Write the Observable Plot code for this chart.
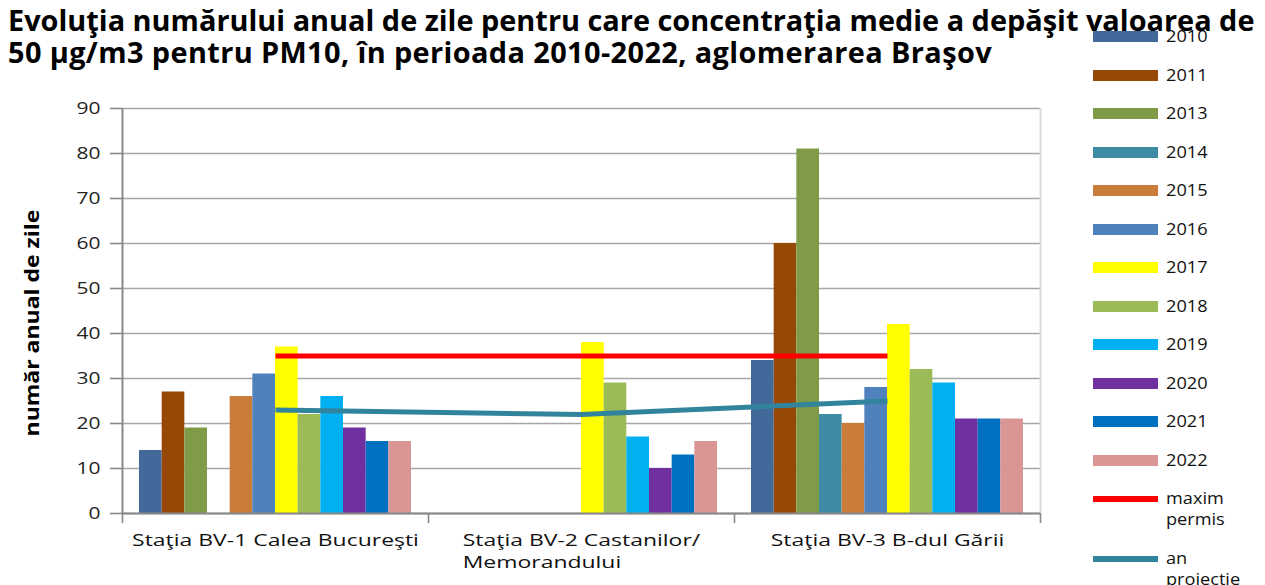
<!DOCTYPE html>
<html>
<head>
<meta charset="utf-8">
<script src="https://cdn.jsdelivr.net/npm/d3@7"></script>
<script src="https://cdn.jsdelivr.net/npm/@observablehq/plot@0.6"></script>
<style>
  html, body { margin: 0; padding: 0; background: #fff; }
  #wrap { position: relative; width: 1265px; height: 585px; overflow: hidden; font-family: "Open Sans", sans-serif; }
  #title { position: absolute; left: 8px; top: 4px; font-weight: bold; color: #000; line-height: 32px; white-space: nowrap; z-index: 2; }
  #title span { display: inline-block; }
  #chart { position: absolute; left: 0; top: 80px; }
  #legend { position: absolute; left: 0; top: 0; width: 1265px; height: 585px; z-index: 1; }
  .li { position: absolute; left: 1093px; display: flex; align-items: flex-start; }
  .sw { width: 65px; margin-top: 0; flex: none; }
  .lt { margin-left: 8px; font-size: 16px; line-height: 21px; color: #111; transform-origin: left top; white-space: nowrap; }
</style>
</head>
<body>
<div id="wrap">
  <div id="title"></div>
  <div id="legend"></div>
  <div id="chart"></div>
</div>
<script>
const titleLines = [
  "Evoluţia numărului anual de zile pentru care concentraţia medie a depăşit valoarea de",
  "50 µg/m3 pentru PM10, în perioada 2010-2022, aglomerarea Braşov"
];
const yLabel = "număr anual de zile";
const stations = ["Staţia BV-1 Calea Bucureşti", "Staţia BV-2 Castanilor/\nMemorandului", "Staţia BV-3 B-dul Gării"];
const years = ["2010", "2011", "2013", "2014", "2015", "2016", "2017", "2018", "2019", "2020", "2021", "2022"];
const yearColors = ["#416A9B", "#974806", "#7F9B48", "#3D8CA4", "#CA7C3A", "#4F81BD", "#FFFF00", "#9BBB59", "#00B0F0", "#7030A0", "#0070C0", "#D99694"];
const bv1 = [14, 27, 19, 0, 26, 31, 37, 22, 26, 19, 16, 16];
const bv2 = [0, 0, 0, 0, 0, 0, 38, 29, 17, 10, 13, 16];
const bv3 = [34, 60, 81, 22, 20, 28, 42, 32, 29, 21, 21, 21];
const maximPermis = [35, 35, 35];
const anProiectie = [23, 22, 25];
const lineNames = ["maxim\npermis", "an\nproiecţie"];
const lineColors = ["#FF0000", "#31849B"];
const yTicks = [0, 10, 20, 30, 40, 50, 60, 70, 80, 90];

// title: size fitted so line 1 spans the original's width; line 2 letter-spaced to its width
const tEl = document.getElementById("title");
const titleWidths = [1247, 984];
tEl.style.fontSize = "22px";
tEl.innerHTML = titleLines.map(s => `<div><span>${s}</span></div>`).join("");
const spans = tEl.querySelectorAll("span");
const w1 = spans[0].getBoundingClientRect().width;
const tfs = 22 * titleWidths[0] / w1;
tEl.style.fontSize = tfs + "px";
const w2 = spans[1].getBoundingClientRect().width;
spans[1].style.letterSpacing = ((titleWidths[1] - w2) / titleLines[1].length) + "px";

// bars: grouped within each station band (Excel-like gap width 150%)
const seriesVals = [bv1, bv2, bv3];
const bw = 1 / (years.length + 1.5);
const rows = [];
stations.forEach((s, i) => years.forEach((y, k) => {
  rows.push({station: s, year: y, value: seriesVals[i][k], x1: i + 0.75 * bw + k * bw, x2: i + 0.75 * bw + (k + 1) * bw});
}));
const maxRows = stations.map((s, i) => ({x: i + 0.5, y: maximPermis[i]}));
const projRows = stations.map((s, i) => ({x: i + 0.5, y: anProiectie[i]}));

const chart = Plot.plot({
  width: 1265,
  height: 505,
  marginTop: 28,
  marginBottom: 72,
  marginLeft: 122,
  marginRight: 225,
  style: "font-family: 'Open Sans', sans-serif; font-size: 16px; background: transparent;",
  x: {type: "linear", domain: [0, 3]},
  y: {domain: [0, 90]},
  color: {domain: years, range: yearColors},
  marks: [
    Plot.gridY(yTicks, {stroke: "#a6a6a6", strokeOpacity: 1, strokeWidth: 1.6}),
    Plot.ruleX([3], {stroke: "#d9d9d9", strokeWidth: 2}),
    Plot.rectY(rows.filter(d => d.value > 0), {x1: "x1", x2: "x2", y: "value", fill: "year"}),
    Plot.line(projRows, {x: "x", y: "y", stroke: lineColors[1], strokeWidth: 5, strokeLinecap: "butt"}),
    Plot.line(maxRows, {x: "x", y: "y", stroke: lineColors[0], strokeWidth: 5, strokeLinecap: "butt"}),
    Plot.ruleY([0], {stroke: "#888", strokeWidth: 2}),
    Plot.ruleX([0], {stroke: "#888", strokeWidth: 2, y1: 0, y2: 90}),
    Plot.axisY(yTicks, {tickSize: 12, tickPadding: 10, fontSize: 16, stroke: "#888", strokeWidth: 1.6, fill: "#222", label: null}),
    Plot.axisX([0, 1, 2, 3], {tickSize: 10, stroke: "#888", strokeWidth: 1.6, tickFormat: () => "", label: null}),
    Plot.axisX([0.5, 1.5, 2.5], {tickSize: 0, tickPadding: 17, fontSize: 17, lineHeight: 1.3, fill: "#111", tickFormat: v => stations[Math.floor(v)], label: null}),
    Plot.text([yLabel], {frameAnchor: "left", textAnchor: "middle", rotate: -90, dx: -90, dy: 12, fontSize: 20, fontWeight: "bold", fill: "#000"})
  ]
});
document.getElementById("chart").appendChild(chart);

// horizontal stretch of a text along its own direction, as the original's text is drawn wider
function stretch(t, f) {
  const tr = t.getAttribute("transform") || "";
  t.setAttribute("transform", tr + ` scale(${f},1)`);
}
const texts = Array.from(chart.querySelectorAll("text"));
const tickTexts = texts.filter(t => /^\d+$/.test(t.textContent));
const stationTexts = texts.filter(t => t.textContent.startsWith("Staţia"));
const yLabTexts = texts.filter(t => t.textContent === yLabel);
tickTexts.forEach(t => { t.style.fontSize = "16px"; });
stationTexts.forEach(t => { t.style.fontSize = "17px"; });
yLabTexts.forEach(t => { t.style.fontSize = "20px"; });

// wrapped tick label: second line aligned left with first, as in the original
stationTexts.forEach(t => {
  const sp = t.querySelectorAll("tspan");
  if (sp.length > 1) {
    const len = sp[0].getComputedTextLength();
    t.setAttribute("text-anchor", "start");
    sp.forEach(s => s.setAttribute("x", -len / 2));
  }
});

const t90 = tickTexts.find(t => t.textContent === "90");
const fTick = t90 ? Math.min(1.5, 24 / t90.getComputedTextLength()) : 1.3;
tickTexts.forEach(t => stretch(t, fTick));
const s1 = stationTexts.find(t => t.textContent === stations[0]);
const fSt = s1 ? Math.min(1.5, 287 / s1.getComputedTextLength()) : 1.25;
stationTexts.forEach(t => stretch(t, fSt));
yLabTexts.forEach(t => stretch(t, Math.min(1.5, 227 / t.getComputedTextLength())));

// legend
const leg = document.getElementById("legend");
const items = years.map((y, k) => ({name: y, color: yearColors[k], h: 11}))
  .concat(lineNames.map((n, k) => ({name: n, color: lineColors[k], h: 6})));
items.forEach((it, idx) => {
  const cy = idx < 13 ? 36.5 + idx * 38.5 : 36.5 + 12 * 38.5 + 60;
  const d = document.createElement("div");
  d.className = "li";
  d.style.top = (cy - 10.5) + "px";
  d.innerHTML = `<div class="sw" style="height:${it.h}px;background:${it.color};margin-top:${10.5 - it.h / 2}px"></div><div class="lt">${it.name.replace("\n", "<br>")}</div>`;
  leg.appendChild(d);
});
const lts = leg.querySelectorAll(".lt");
const wLeg = lts[0].getBoundingClientRect().width;
const fLeg = Math.min(1.4, 41.5 / wLeg);
lts.forEach(el => el.style.transform = `scaleX(${fLeg})`);
</script>
</body>
</html>
